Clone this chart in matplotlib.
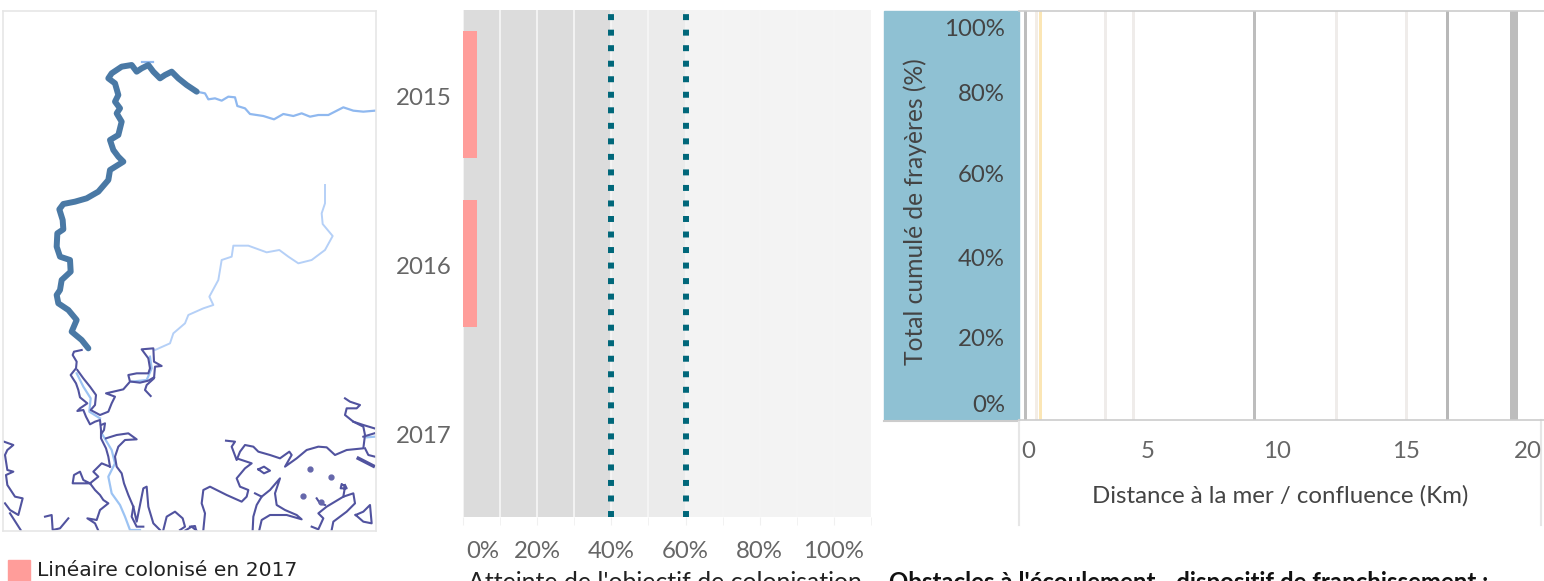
import matplotlib
matplotlib.use("Agg")
import matplotlib.pyplot as plt
from matplotlib.patches import Rectangle
from matplotlib.transforms import ScaledTranslation

plt.rcParams['font.family'] = ['Lato', 'DejaVu Sans']

W, H = 1544, 581

# --- bars
years = ['2015', '2016', '2017']
colonisation = [3.8, 3.8, 0]
objective_lines = [40, 60]
bands = [(0, 40, '#dcdcdc'), (40, 60, '#ebebeb'), (60, 110, '#f3f3f3')]
pct_ticks = [0, 20, 40, 60, 80, 100]

# --- obstacles (km from the sea, colour, width in px)
obstacle_km = [0.25, 0.65, 0.8, 3.35, 4.4, 9.1, 12.3, 15.0, 16.6, 19.2]
obstacle_col = ['#bdbdbd', '#f3ede6', '#fbe6b5', '#efecea', '#efecea', '#bdbdbd',
                '#efecea', '#efecea', '#b8b8b8', '#bdbdbd']
obstacle_w = [3, 3, 3, 3, 3, 3, 3, 3, 3, 8]
km_ticks = [0, 5, 10, 15, 20]
cumul_ticks = [0, 20, 40, 60, 80, 100]

# --- map, traced in 1/3 px units
colonised_x = [590, 560, 535, 515, 495, 480, 460, 445, 425, 410, 395, 365, 335, 325, 345, 355, 345, 360, 350, 365,
               355, 330, 340, 355, 370, 330, 325, 295, 260, 225, 190, 178, 188, 190, 172, 170, 180, 210, 212, 185,
               180, 170, 175, 205, 230, 215, 245, 265]
colonised_y = [275, 255, 235, 215, 225, 235, 215, 195, 205, 215, 195, 200, 220, 235, 250, 285, 305, 325, 340, 365,
               405, 420, 450, 470, 485, 510, 540, 575, 595, 605, 612, 628, 660, 688, 700, 740, 770, 780, 815, 840,
               870, 885, 910, 930, 960, 995, 1020, 1045]
upper_x = [590, 615, 625, 645, 665, 685, 705, 712, 735, 750, 790, 822, 850, 880, 905, 930, 955, 985, 1030, 1060, 1090, 1125]
upper_y = [275, 280, 298, 295, 302, 290, 292, 318, 325, 342, 348, 358, 342, 348, 340, 350, 345, 345, 322, 332, 335, 332]
tributary_x = [975, 975, 965, 968, 998, 975, 935, 895, 865, 838, 800, 745, 700, 695, 665, 655, 628, 640, 610, 565, 555, 520, 510, 465]
tributary_y = [555, 610, 640, 672, 708, 750, 780, 790, 770, 750, 757, 737, 737, 770, 780, 840, 890, 915, 925, 945, 970, 1000, 1030, 1050]
crest_x = [425, 460]
crest_y = [185, 185]

# western part, origin (0, 1020)
west_origin = (0, 1020)
west_channels = [
    ([230, 250, 272, 268, 300], [100, 140, 175, 215, 235]),
    ([305, 335, 345, 325, 335, 360, 375, 390, 420], [280, 330, 370, 410, 460, 495, 530, 570, 570]),
    ([395, 440, 455, 450], [125, 120, 85, 50]),
]
west_coast = [
    ([245, 222, 218, 230, 228, 212, 228, 235, 240, 262, 240, 232, 250, 258, 270, 285, 300, 303, 303, 318, 325, 330],
     [30, 35, 45, 65, 85, 105, 130, 150, 172, 190, 205, 213, 210, 230, 253, 245, 240, 270, 295, 325, 350, 380]),
    ([232, 250, 270, 288, 285, 272, 300, 325, 335, 345, 318, 340, 370, 390, 385, 410, 445, 450, 445, 425, 460, 462, 485, 465, 462, 440, 435, 452],
     [90, 115, 140, 165, 195, 210, 225, 215, 190, 170, 160, 155, 148, 125, 105, 100, 100, 85, 55, 28, 25, 65, 78, 80, 115, 135, 150, 168]),
    ([395, 420, 445, 462], [125, 128, 122, 112]),
    ([303, 315, 312, 305], [255, 250, 270, 280]),
    ([318, 350, 385, 410, 375, 355, 345, 350, 365, 372, 385, 400, 410, 430, 440, 445, 460, 480],
     [295, 285, 280, 298, 300, 320, 350, 380, 400, 430, 465, 500, 545, 445, 440, 500, 550, 570]),
    ([400, 395, 410, 430], [500, 530, 560, 560]),
    ([330, 305, 280, 295, 270, 250, 240, 222, 218, 250, 270, 285, 300, 310, 325, 300, 290, 262, 285, 295],
     [380, 370, 395, 410, 430, 420, 395, 405, 430, 430, 430, 450, 465, 480, 490, 510, 540, 535, 550, 572]),
    ([12, 40, 22, 15, 22, 40, 18, 22, 45, 68, 55, 30, 15], [305, 315, 330, 345, 390, 395, 405, 435, 470, 475, 525, 510, 490]),
    ([30, 62], [520, 570]),
    ([135, 155, 158, 180, 205], [530, 525, 570, 565, 535]),
    ([490, 500, 525, 548, 555, 540], [570, 530, 515, 535, 560, 570]),
    ([555, 575, 590], [572, 560, 572]),
]

# eastern part, origin (570, 1170)
east_origin = (570, 1170)
east_channels = [([530, 555], [142, 140])]
east_coast = [
    ([108, 135, 125, 140, 150, 165, 190, 205, 240, 270, 298, 305, 285, 320, 350, 385, 410, 435, 470, 520, 525, 520, 490, 465, 470, 500, 510, 480, 465],
     [152, 155, 170, 210, 185, 165, 170, 185, 195, 205, 185, 195, 230, 205, 180, 170, 172, 195, 180, 175, 135, 110, 95, 75, 55, 55, 45, 35, 25]),
    ([490, 520, 553], [95, 105, 115]),
    ([520, 553], [140, 130]),
    ([525, 535, 555], [175, 195, 200]),
    ([140, 185, 165, 140, 150, 175, 170, 155, 110, 60, 40, 35, 45, 40],
     [205, 220, 235, 265, 290, 300, 320, 335, 315, 290, 300, 340, 370, 420]),
    ([205, 222, 240, 222, 205], [238, 230, 242, 250, 238]),
    ([195, 215, 240, 270, 255, 260, 285, 320, 335, 290, 240, 215, 208],
     [310, 320, 300, 265, 310, 345, 360, 375, 388, 375, 375, 390, 420]),
    ([215, 200, 190, 188], [320, 345, 380, 420]),
    ([365, 385, 400, 385, 410, 460, 490, 495, 470, 430, 425], [410, 418, 385, 370, 350, 320, 310, 340, 365, 395, 420]),
    ([460, 465, 455, 452, 470, 465], [320, 290, 282, 295, 295, 285]),
    ([380, 390, 405], [325, 340, 345]),
    ([497, 520, 540, 545, 520, 497], [375, 365, 345, 400, 395, 375]),
    ([0, 15, 18], [410, 408, 420]),
]
east_bar_x = [505, 550]
east_bar_y = [205, 228]
islet_x = [360, 424, 338, 392]
islet_y = [238, 260, 318, 335]


def px_axes(fig, x0, y0, x1, y1):
    # pixel box (top-left origin) to a figure axes
    return fig.add_axes([x0 / W, 1 - y1 / H, (x1 - x0) / W, (y1 - y0) / H])


def nudge(label, dx, dy=0):
    # dx, dy in px, dy positive goes up. call after tick_params, it resets the transform
    label.set_transform(label.get_transform() + ScaledTranslation(dx / 100, dy / 100, fig.dpi_scale_trans))


def draw_part(ax, origin, channels, coast):
    ox, oy = origin
    for xs, ys in channels:
        ax.plot([x + ox for x in xs], [y + oy for y in ys], color='#9cc3f3', lw=1.6, solid_joinstyle='round')
    for xs, ys in coast:
        ax.plot([x + ox for x in xs], [y + oy for y in ys], color='#51539f', lw=1.5, solid_joinstyle='round')


fig = plt.figure(figsize=(W / 100, H / 100), dpi=100, facecolor='white')

# map
ax = px_axes(fig, 3, 11, 376, 531)
ax.set_xlim(9, 1128)
ax.set_ylim(1593, 33)
ax.set_xticks([])
ax.set_yticks([])
for s in ax.spines.values():
    s.set_color('#e6e6e6')
    s.set_linewidth(1.2)
ax.plot(tributary_x, tributary_y, color='#b5d0f7', lw=1.4, solid_joinstyle='round')
ax.plot(upper_x, upper_y, color='#8fb8ef', lw=1.6, solid_joinstyle='round')
ax.plot(crest_x, crest_y, color='#8fb8ef', lw=1.6)
draw_part(ax, west_origin, west_channels, west_coast)
draw_part(ax, east_origin, east_channels, east_coast)
ax.plot([x + east_origin[0] for x in east_bar_x], [y + east_origin[1] for y in east_bar_y],
        color='#51539f', lw=2.6)
ax.plot([x + east_origin[0] for x in islet_x], [y + east_origin[1] for y in islet_y],
        ls='none', marker='o', ms=3.5, color='#6567ab')
ax.plot(colonised_x, colonised_y, color='#4a79a5', lw=4.3, solid_capstyle='round', solid_joinstyle='round')

# legend under the map
fig.add_artist(Rectangle((8 / W, 0), 22 / W, 21 / H, color='#ff9d9a', transform=fig.transFigure))
fig.text(37 / W, 1 - 571 / H, 'Linéaire colonisé en 2017', fontsize=14.6, color='#222222',
         family=['DejaVu Sans'], va='center', ha='left')

# bars
ax = px_axes(fig, 463, 10, 871, 517)
ax.set_xlim(0, 110)
ax.set_ylim(2.5, -0.5)
for lo, hi, col in bands:
    ax.axvspan(lo, hi, color=col, lw=0, zorder=0)
ax.set_xticks(range(0, 111, 10), minor=True)
ax.grid(True, axis='x', which='both', color='#f5f5f5', lw=1.3, zorder=1)
ax.barh(range(len(years)), colonisation, height=0.75, color='#ff9d9a', zorder=2)
for v in objective_lines:
    ax.axvline(v, color='#00677a', lw=4.3, ls=(0, (1, 1.6)), zorder=3)
ax.set_yticks(range(len(years)), years, fontsize=17.3, color='#666666')
ax.set_xticks(pct_ticks, [f'{t}%' for t in pct_ticks], fontsize=17.3, color='#666666')
ax.tick_params(axis='y', length=0, pad=8)
ax.tick_params(axis='x', which='major', length=6, pad=11, color='#f0f0f0')
ax.tick_params(axis='x', which='minor', length=6, color='#f0f0f0')
ax.get_xticklabels()[0].set_ha('left')
nudge(ax.get_xticklabels()[0], 3)
for lab in ax.get_yticklabels():
    nudge(lab, 0, -2)
for s in ax.spines.values():
    s.set_visible(False)
fig.text(665 / W, 1 - 583 / H, "Atteinte de l'objectif de colonisation", fontsize=17.9, color='#222222',
         ha='center', va='center')

# obstacles
blue = Rectangle((884 / W, 1 - 420 / H), 135 / W, 409 / H, color='#8fc1d3', transform=fig.transFigure)
fig.add_artist(blue)
ax = px_axes(fig, 1019, 11, 1544, 420)
ax.set_zorder(3)
ax.patch.set_alpha(0)
ax.set_xlim(0, 20.35)
ax.set_ylim(0, 101)
for km, col, w in zip(obstacle_km, obstacle_col, obstacle_w):
    ax.axvline(km, color=col, lw=w * 0.72)
ax.set_xticks(km_ticks, [str(k) for k in km_ticks], fontsize=17.3, color='#666666')
ax.set_yticks(cumul_ticks, [f'{c}%' for c in cumul_ticks], fontsize=17.3, color='#444444')
ax.tick_params(axis='x', length=0, pad=15)
ax.tick_params(axis='y', length=0, pad=10)
ax.get_xticklabels()[0].set_ha('left')
ax.get_xticklabels()[-1].set_ha('right')
nudge(ax.get_xticklabels()[0], 2)
nudge(ax.get_xticklabels()[-1], 7)
ax.get_yticklabels()[0].set_va('bottom')
ax.get_yticklabels()[-1].set_va('top')
for lab, dy in zip(ax.get_yticklabels(), [4, 2, 1, 4, 4, -4]):
    nudge(lab, 0, dy)
for name, s in ax.spines.items():
    s.set_color('#cccccc')
    s.set_linewidth(1.2)
    s.set_visible(name in ('top', 'bottom'))
fig.add_artist(plt.Line2D([884 / W, 1019 / W], [1 - 420.5 / H] * 2, color='#cccccc', lw=1.5))
for x in (1019, 1541):
    fig.add_artist(plt.Line2D([x / W] * 2, [1 - 420 / H, 1 - 525 / H], color='#e6e6e6', lw=1.5))
fig.text(915 / W, 1 - 212 / H, 'Total cumulé de frayères (%)', rotation=90, fontsize=17.7, color='#444444',
         ha='center', va='center', zorder=5)
fig.text(1280 / W, 1 - 496 / H, 'Distance à la mer / confluence (Km)', fontsize=17.3, color='#444444',
         ha='center', va='center')
fig.text(889 / W, 1 - 583 / H, "Obstacles à l'écoulement - dispositif de franchissement :", fontsize=17.3,
         color='#111111', fontweight='bold', ha='left', va='center')

fig.savefig('out.png', dpi=100)
